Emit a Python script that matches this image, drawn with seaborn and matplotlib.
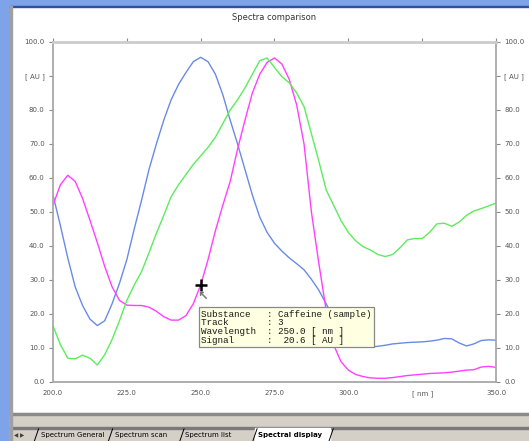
import matplotlib
matplotlib.use("Agg")
import matplotlib.pyplot as plt
import matplotlib.patches as mpatches
from matplotlib.lines import Line2D
import seaborn as sns
import pandas as pd

WAVELENGTH = [200 + 2.5 * i for i in range(61)]

BLUE = [55, 46, 36.5, 28, 22.5, 18.5, 16.6, 18, 23, 29, 36, 45, 53.5, 62.5, 70, 77,
        83, 87.5, 91, 94.2, 95.5, 94.2, 90.5, 84.5, 77, 70, 62.5, 55, 48.5, 44, 40.8,
        38.5, 36.5, 34.8, 33, 30.2, 27, 23, 19, 15.5, 12.5, 11, 10.5, 10.3, 10.5,
        10.8, 11.2, 11.4, 11.6, 11.7, 11.8, 12, 12.3, 12.8, 12.7, 11.5, 10.6,
        11.2, 12.2, 12.4, 12.3]

MAGENTA = [52, 58, 60.8, 59, 54, 47.6, 41, 34, 28, 24, 22.6, 22.5, 22.5, 22, 20.8,
           19.2, 18.2, 18.2, 19.5, 23, 28.5, 36, 44.5, 52, 59, 68.5, 77, 85,
           90.5, 94, 95.3, 93.5, 89, 81.5, 70, 50, 35, 21, 11, 6, 3.5, 2.2, 1.6,
           1.2, 1.1, 1.1, 1.3, 1.6, 1.9, 2.1, 2.3, 2.5, 2.6, 2.7, 2.9, 3.2, 3.5,
           3.6, 4.4, 4.6, 4.3]

GREEN = [16.5, 11, 7, 6.8, 7.9, 7, 5, 8, 12.5, 18, 24, 28.5, 32.5, 38, 43.7, 49,
         54.5, 58, 61, 64, 66.5, 69, 72, 76, 80, 83, 86.5, 90.5, 94.5, 95.3, 92.5,
         89.8, 88, 85, 81, 73, 65, 56.5, 52, 47.5, 44, 41.5, 39.8, 38.8, 37.5,
         36.9, 37.5, 39.5, 41.8, 42.2, 42.2, 44, 46.5, 46.7, 45.8, 47, 49, 50.3,
         51, 51.8, 52.6]

X_TICKS = [200, 225, 250, 275, 300, 325, 350]
X_LABELS = ["200.0", "225.0", "250.0", "275.0", "300.0", "[ nm ]", "350.0"]
Y_TICKS = [0, 10, 20, 30, 40, 50, 60, 70, 80, 90, 100]
Y_LABELS = ["0.0", "10.0", "20.0", "30.0", "40.0", "50.0", "60.0", "70.0",
            "80.0", "[ AU ]", "100.0"]

TOOLTIP = ["Substance   : Caffeine (sample)",
           "Track       : 3",
           "Wavelength  : 250.0 [ nm ]",
           "Signal      :  20.6 [ AU ]"]
CURSOR_WL = 250.0

TABS = ["Spectrum General", "Spectrum scan", "Spectrum list", "Spectral display"]

rows = []
for name, vals in [("blue", BLUE), ("magenta", MAGENTA), ("green", GREEN)]:
    for w, v in zip(WAVELENGTH, vals):
        rows.append({"wl": w, "signal": v, "track": name})
df = pd.DataFrame(rows)

sns.set_style("white")
plt.rcParams["font.family"] = ["DejaVu Sans"]

fig = plt.figure(figsize=(5.29, 4.41), dpi=100)
fig.patch.set_facecolor("white")


def frame_rect(x, y, w, h, color):
    fig.patches.append(mpatches.Rectangle((x, y), w, h, transform=fig.transFigure,
                                          color=color, zorder=0))


# window frame: blue strip left/top, grey tab bar at bottom
frame_rect(0, 0, 0.018, 1, "#7fa3e8")
frame_rect(0, 0.986, 1, 0.014, "#7fa3e8")
frame_rect(0.018, 0.983, 0.982, 0.004, "#3050a0")
frame_rect(0.018, 0, 0.982, 0.064, "#d4d0c8")
frame_rect(0.018, 0.060, 0.982, 0.004, "#8a8a8a")
frame_rect(0.018, 0.028, 0.982, 0.003, "#7a7a7a")
frame_rect(0.018, 0.0, 0.004, 0.986, "#a0a0a0")

ax = fig.add_axes([0.1002, 0.1338, 0.8374, 0.771])
palette = {"blue": "#6a8ae6", "magenta": "#ff40ff", "green": "#5cec5c"}
sns.lineplot(data=df, x="wl", y="signal", hue="track", palette=palette,
             linewidth=1.0, legend=False, ax=ax)

ax.set_xlim(200, 350)
ax.set_ylim(0, 100)
ax.set_xticks(X_TICKS)
ax.set_xticklabels(X_LABELS)
ax.set_yticks(Y_TICKS)
ax.set_yticklabels(Y_LABELS)
ax.set_xlabel("")
ax.set_ylabel("")
ax.tick_params(axis="both", labelsize=5, colors="#888888", labelcolor="#555555",
               length=3, width=0.8, pad=3)
ax.tick_params(axis="y", right=True, labelright=True, left=True)
ax.tick_params(axis="x", top=True, labeltop=False, direction="out")
for side in ["left", "right", "bottom"]:
    ax.spines[side].set_color("#a8a8a8")
    ax.spines[side].set_linewidth(1.3)
ax.spines["top"].set_color("#cccccc")
ax.spines["top"].set_linewidth(2.0)
ax.set_title("Spectra comparison", fontsize=6, color="#333333", pad=16)

# cursor cross on the magenta track
idx = WAVELENGTH.index(CURSOR_WL)
ax.plot([CURSOR_WL], [MAGENTA[idx]], marker="+", ms=9, mew=1.8, color="black", zorder=5)
ax.plot([CURSOR_WL + 0.9], [MAGENTA[idx] - 3.0], marker=r"$\nwarrow$", ms=5,
        mew=0.3, color="#777777", zorder=5)

ax.text(250.2, 11.0, "\n".join(TOOLTIP), fontsize=6.7, family="Liberation Mono",
        color="#1a1a1a", va="bottom", ha="left", linespacing=0.95,
        bbox=dict(boxstyle="square,pad=0.25", facecolor="#ffffe1",
                  edgecolor="#888888", linewidth=0.9), zorder=6)

# bottom tabs
frame_rect(0.482, 0.0, 0.142, 0.030, "white")
tab_x = [0.078, 0.218, 0.350, 0.487]
sep_x = [0.065, 0.205, 0.340, 0.478, 0.622]
for i, tab in enumerate(TABS):
    bold = i == len(TABS) - 1
    fig.text(tab_x[i], 0.006, tab, fontsize=5, color="black",
             fontweight="bold" if bold else "normal", va="bottom", ha="left")
for sx in sep_x:
    fig.lines.append(Line2D([sx, sx + 0.008], [0.0, 0.028], transform=fig.transFigure,
                            color="black", linewidth=0.7))
fig.text(0.026, 0.006, "◀ ▶", fontsize=4, color="#404040", va="bottom")

fig.savefig("out.png", dpi=100)
